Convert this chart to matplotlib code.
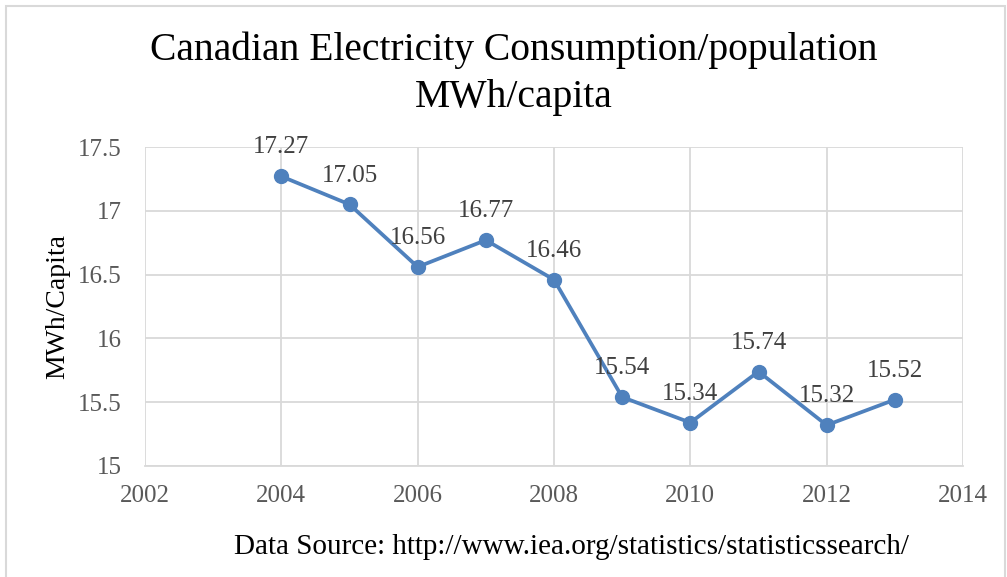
import matplotlib.pyplot as plt
from matplotlib.patches import Rectangle

years = [2004, 2005, 2006, 2007, 2008, 2009, 2010, 2011, 2012, 2013]
mwh_per_capita = [17.27, 17.05, 16.56, 16.77, 16.46, 15.54, 15.34, 15.74, 15.32, 15.52]
x_ticks = [2002, 2004, 2006, 2008, 2010, 2012, 2014]
y_ticks = [15, 15.5, 16, 16.5, 17, 17.5]

plt.rcParams['font.family'] = ['Liberation Serif', 'DejaVu Serif']

W, H = 1007, 577
fig = plt.figure(figsize=(W / 100, H / 100), dpi=100)
ax = fig.add_axes([145 / W, 1 - 466 / H, (963 - 145) / W, (466 - 147) / H])

grid_c = '#d9d9d9'
blue = '#4f81bd'

ax.plot(years, mwh_per_capita, color=blue, lw=2.7, marker='o', markersize=10, zorder=3)

for x, y in zip(years, mwh_per_capita):
    ax.annotate(f'{y:.2f}', (x, y), xytext=(0, 16.5), textcoords='offset points',
                ha='center', va='baseline', fontsize=18, color='#404040')

ax.set_xlim(2002, 2014)
ax.set_ylim(15, 17.5)
ax.set_xticks(x_ticks)
ax.set_yticks(y_ticks)
ax.set_yticklabels(['15', '15.5', '16', '16.5', '17', '17.5'])
ax.grid(True, color=grid_c, lw=1.3)
ax.set_axisbelow(True)
for s in ax.spines.values():
    s.set_visible(False)
ax.spines['bottom'].set_visible(True)
ax.spines['bottom'].set_color(grid_c)
ax.spines['bottom'].set_linewidth(1.3)
ax.tick_params(length=0, labelsize=18, labelcolor='#595959')
ax.tick_params(axis='y', pad=17)
ax.tick_params(axis='x', pad=14)
ax.set_ylabel('MWh/Capita', fontsize=20, labelpad=5)

fig.text(514 / W, 1 - 50 / H, 'Canadian Electricity Consumption/population',
         ha='center', va='center', fontsize=28.5)
fig.text(514 / W, 1 - 97 / H, 'MWh/capita', ha='center', va='center', fontsize=28.5)
fig.text(572 / W, 1 - 547 / H, 'Data Source: http://www.iea.org/statistics/statisticssearch/',
         ha='center', va='center', fontsize=21)

fig.patches.append(Rectangle((6 / W, -0.01), (1005 - 6) / W, 1 - 6 / H + 0.01,
                             transform=fig.transFigure, fill=False,
                             edgecolor=grid_c, lw=1.5))

fig.savefig('out.png', dpi=100)
